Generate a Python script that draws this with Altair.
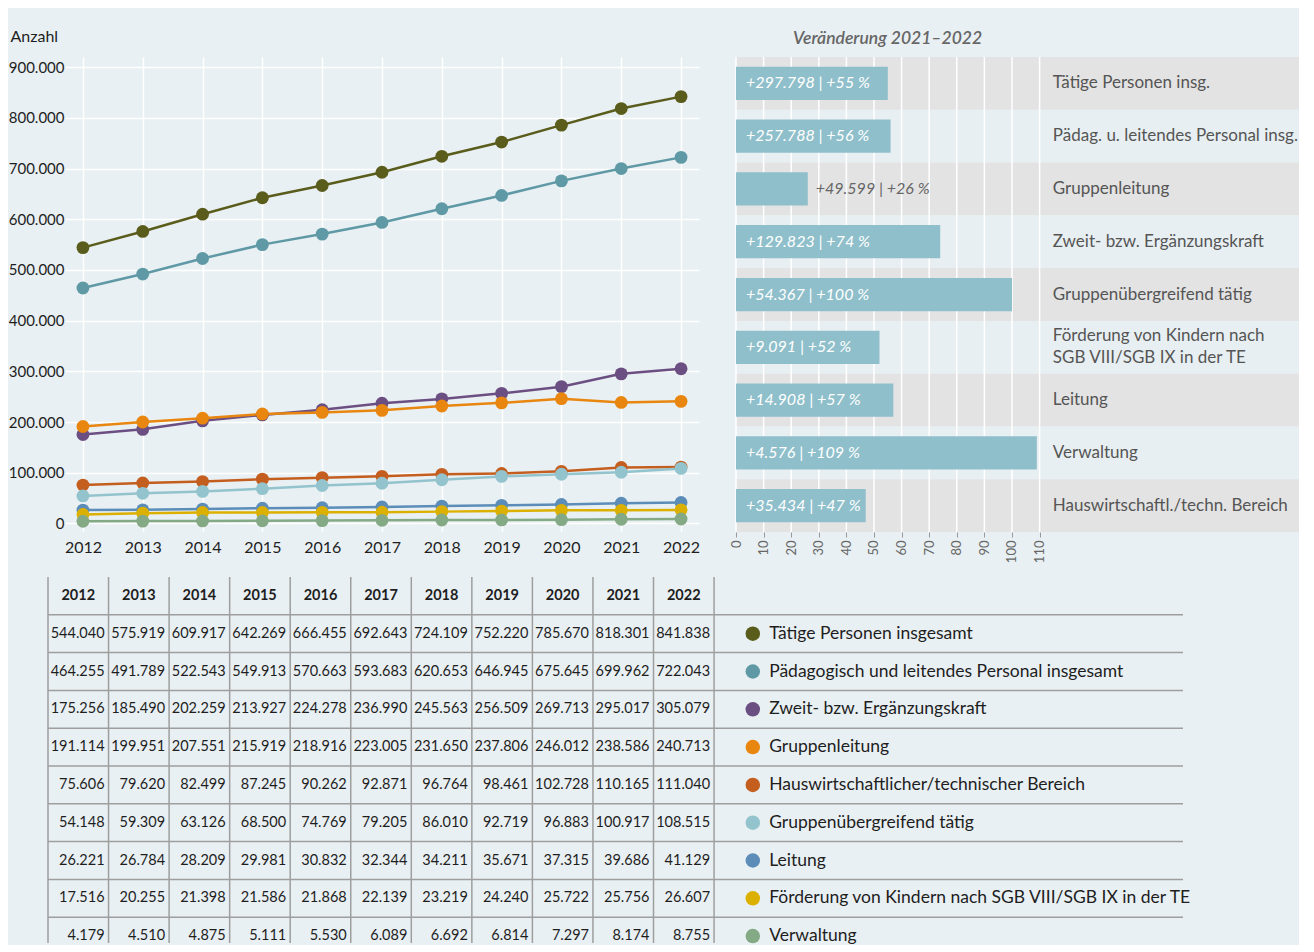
import altair as alt
import pandas as pd

# ---------------- data ----------------
years = [2012, 2013, 2014, 2015, 2016, 2017, 2018, 2019, 2020, 2021, 2022]

series_names = [
    "Tätige Personen insgesamt",
    "Pädagogisch und leitendes Personal insgesamt",
    "Zweit- bzw. Ergänzungskraft",
    "Gruppenleitung",
    "Hauswirtschaftlicher/technischer Bereich",
    "Gruppenübergreifend tätig",
    "Leitung",
    "Förderung von Kindern nach SGB VIII/SGB IX in der TE",
    "Verwaltung",
]
series_colors = ["#5a5c1b", "#5e99a5", "#6c4f82", "#e8860f", "#c45e1f",
                 "#93c3cd", "#5b8db8", "#dcb000", "#84a985"]

taetige = [544040, 575919, 609917, 642269, 666455, 692643, 724109, 752220, 785670, 818301, 841838]
paedagogisch = [464255, 491789, 522543, 549913, 570663, 593683, 620653, 646945, 675645, 699962, 722043]
zweitkraft = [175256, 185490, 202259, 213927, 224278, 236990, 245563, 256509, 269713, 295017, 305079]
gruppenleitung = [191114, 199951, 207551, 215919, 218916, 223005, 231650, 237806, 246012, 238586, 240713]
hauswirtschaft = [75606, 79620, 82499, 87245, 90262, 92871, 96764, 98461, 102728, 110165, 111040]
gruppenuebergreifend = [54148, 59309, 63126, 68500, 74769, 79205, 86010, 92719, 96883, 100917, 108515]
leitung = [26221, 26784, 28209, 29981, 30832, 32344, 34211, 35671, 37315, 39686, 41129]
foerderung = [17516, 20255, 21398, 21586, 21868, 22139, 23219, 24240, 25722, 25756, 26607]
verwaltung = [4179, 4510, 4875, 5111, 5530, 6089, 6692, 6814, 7297, 8174, 8755]
series_values = [taetige, paedagogisch, zweitkraft, gruppenleitung, hauswirtschaft,
                 gruppenuebergreifend, leitung, foerderung, verwaltung]

y_ticks = [0, 100000, 200000, 300000, 400000, 500000, 600000, 700000, 800000, 900000]

bar_categories = [
    "Tätige Personen insg.",
    "Pädag. u. leitendes Personal insg.",
    "Gruppenleitung",
    "Zweit- bzw. Ergänzungskraft",
    "Gruppenübergreifend tätig",
    "Förderung von Kindern nach\nSGB VIII/SGB IX in der TE",
    "Leitung",
    "Verwaltung",
    "Hauswirtschaftl./techn. Bereich",
]
bar_pct = [55, 56, 26, 74, 100, 52, 57, 109, 47]
bar_abs = ["+297.798", "+257.788", "+49.599", "+129.823", "+54.367",
           "+9.091", "+14.908", "+4.576", "+35.434"]
bar_ticks = [0, 10, 20, 30, 40, 50, 60, 70, 80, 90, 100, 110]

# ---------------- style ----------------
BG = "#e9f0f3"
FONT = "Lato"
TXT = "#1e1e1e"
GRAYTXT = "#555555"

# ---------------- line chart ----------------
long_rows = []
for si, (name, vals) in enumerate(zip(series_names, series_values)):
    for y, v in zip(years, vals):
        long_rows.append({"year": y, "series": name, "value": v, "s": si})
df_long = pd.DataFrame(long_rows)

color_scale = alt.Scale(domain=series_names, range=series_colors)

lbase = alt.Chart(df_long).encode(
    x=alt.X("year:Q",
            scale=alt.Scale(domain=[2011.7, 2022.3], nice=False, zero=False),
            axis=alt.Axis(values=years, format="d", title=None, grid=True,
                          gridColor="white", gridWidth=1.5, domain=False, ticks=False,
                          labelFontSize=16, labelPadding=8, labelColor=TXT)),
    y=alt.Y("value:Q",
            scale=alt.Scale(domain=[-15000, 920000], nice=False, zero=False),
            axis=alt.Axis(values=y_ticks, grid=True, gridColor="white", gridWidth=1.5,
                          domain=False, ticks=False, labelFontSize=15, labelPadding=1,
                          labelColor=TXT,
                          labelExpr="replace(format(datum.value, ','), regexp(',', 'g'), '.')",
                          title="Anzahl", titleAngle=0, titleAlign="left",
                          titleBaseline="alphabetic", titleX=-55, titleY=-16,
                          titleFontSize=16, titleFontWeight="normal", titleColor=TXT)),
    color=alt.Color("series:N", scale=color_scale, legend=None),
    detail="series:N",
)
lines = lbase.mark_line(strokeWidth=2.5)
points = lbase.mark_circle(size=165, opacity=1)
line_chart = alt.layer(lines, points).properties(width=634, height=474)

# ---------------- bar chart ----------------
bar_df = pd.DataFrame({
    "cat": bar_categories,
    "pct": bar_pct,
    "abs": bar_abs,
})
bar_df["label"] = bar_df["abs"] + " | +" + bar_df["pct"].astype(str) + " %"
bar_df["band"] = ["a" if i % 2 == 0 else "b" for i in range(len(bar_df))]
grid_df = pd.DataFrame({"tick": bar_ticks})

BAR_MAX = 204
ybar = alt.Y("cat:N", sort=bar_categories,
             scale=alt.Scale(paddingInner=0, paddingOuter=0), axis=None)

bg = alt.Chart(bar_df).mark_rect().encode(
    y=ybar,
    x=alt.datum(0, scale=alt.Scale(domain=[0, BAR_MAX], nice=False),
                axis=alt.Axis(values=bar_ticks, grid=False, domain=False, ticks=True,
                              tickColor="#9a9a9a", tickSize=5, labelAngle=-90,
                              labelFontSize=13, labelColor="#666", labelPadding=3,
                              title=None)),
    x2=alt.datum(BAR_MAX),
    color=alt.Color("band:N", scale=alt.Scale(domain=["a", "b"], range=["#e3e3e3", "#e8eff2"]),
                    legend=None),
)
gridr = alt.Chart(grid_df).mark_rule(color="white", strokeWidth=1.5).encode(x="tick:Q")
bars = alt.Chart(bar_df).mark_bar(color="#8fbfcb", height={"band": 0.63}).encode(
    x="pct:Q", y=ybar)
lab_in = alt.Chart(bar_df).transform_filter("datum.pct >= 35").mark_text(
    align="left", baseline="middle", dx=10, color="white", fontStyle="italic",
    fontSize=16, font=FONT).encode(x=alt.datum(0), y=ybar, text="label:N")
lab_out = alt.Chart(bar_df).transform_filter("datum.pct < 35").mark_text(
    align="left", baseline="middle", dx=8, color="#666", fontStyle="italic",
    fontSize=16, font=FONT).encode(x="pct:Q", y=ybar, text="label:N")
row_lab1 = alt.Chart(bar_df).transform_filter("indexof(datum.cat, '\\n') < 0").mark_text(
    align="left", baseline="middle", color=GRAYTXT, fontSize=17, font=FONT).encode(
    x=alt.datum(114.8), y=ybar, text="cat:N")
row_lab2 = alt.Chart(bar_df).transform_filter("indexof(datum.cat, '\\n') >= 0").mark_text(
    align="left", baseline="middle", color=GRAYTXT, fontSize=17, font=FONT,
    lineBreak="\n", lineHeight=22, dy=-11).encode(
    x=alt.datum(114.8), y=ybar, text="cat:N")

bar_chart = alt.layer(bg, gridr, bars, lab_in, lab_out, row_lab1, row_lab2).properties(
    width=563, height=475,
    title=alt.TitleParams("Veränderung 2021–2022", anchor="start", dx=63, offset=9,
                          fontSize=17.5, fontStyle="italic", fontWeight=600,
                          color="#666", font=FONT),
).resolve_scale(color="independent")

# ---------------- table ----------------
def de(v):
    return f"{v:,}".replace(",", ".")

cell_rows = []
for i, vals in enumerate(series_values):
    for j, v in enumerate(vals):
        cell_rows.append({"col": j, "row": i + 1, "text": de(v)})
cells_df = pd.DataFrame(cell_rows)
hdr_df = pd.DataFrame({"col": list(range(len(years))), "row": 0, "text": [str(y) for y in years]})
leg_df = pd.DataFrame({"series": series_names, "row": list(range(1, len(series_names) + 1))})
vlines_df = pd.DataFrame({"b": list(range(len(years) + 1))})
hlines_df = pd.DataFrame({"b": [r + 0.5 for r in range(len(series_names))]})

TBL_X0 = 65          # left edge of table plot area (aligned with line chart plot)
UNIT = 60.55         # one year column, px
ROW = 37.8           # one table row, px
TBL_LEFT = 48
TBL_RIGHT = 1183
TBL_H = 366
x_start = -(TBL_LEFT - TBL_X0) / UNIT
TBL_W = TBL_RIGHT - TBL_X0
x_end = x_start + TBL_W / UNIT
legend_end = (TBL_RIGHT - TBL_LEFT) / UNIT
y_end = -0.5 + TBL_H / ROW

xs = alt.Scale(domain=[x_start, x_end], nice=False, zero=False)
ys = alt.Scale(domain=[-0.5, y_end], nice=False, zero=False, reverse=True)

vlines = alt.Chart(vlines_df).mark_rule(color="#9e9e9e", strokeWidth=1.5).encode(
    x=alt.X("b:Q", scale=xs, axis=None),
    y=alt.datum(-0.5, scale=ys, axis=None), y2=alt.datum(y_end))
hlines = alt.Chart(hlines_df).mark_rule(color="#9e9e9e", strokeWidth=1.5).encode(
    y=alt.Y("b:Q", scale=ys, axis=None),
    x=alt.datum(0, scale=xs, axis=None), x2=alt.datum(legend_end))
cells = alt.Chart(cells_df).transform_calculate(xe="datum.col + 1").mark_text(
    align="right", baseline="middle", dx=-4, fontSize=14.5, color=TXT, font=FONT).encode(
    x=alt.X("xe:Q", scale=xs, axis=None), y=alt.Y("row:Q", scale=ys, axis=None), text="text:N")
hdr = alt.Chart(hdr_df).transform_calculate(xc="datum.col + 0.5").mark_text(
    align="center", baseline="middle", fontSize=14.5, fontWeight="bold", color=TXT, font=FONT).encode(
    x=alt.X("xc:Q", scale=xs, axis=None), y=alt.Y("row:Q", scale=ys, axis=None), text="text:N")
leg_pts = alt.Chart(leg_df).mark_circle(size=210, opacity=1).encode(
    x=alt.datum(11.64, scale=xs, axis=None), y=alt.Y("row:Q", scale=ys, axis=None),
    color=alt.Color("series:N", scale=color_scale, legend=None))
leg_txt = alt.Chart(leg_df).mark_text(
    align="left", baseline="middle", fontSize=17.5, color=TXT, font=FONT).encode(
    x=alt.datum(11.91, scale=xs, axis=None), y=alt.Y("row:Q", scale=ys, axis=None),
    text="series:N")

table = alt.layer(vlines, hlines, cells, hdr, leg_pts, leg_txt).properties(
    width=TBL_W, height=TBL_H)

chart = alt.vconcat(
    alt.hconcat(line_chart, bar_chart, spacing=30),
    table,
    spacing=13,
).properties(
    padding={"left": 0, "top": 20, "right": 0, "bottom": 0},
).configure(
    background=BG, font=FONT,
).configure_view(stroke=None)

chart.save("out.html", embed_options={"renderer": "svg", "actions": False})
